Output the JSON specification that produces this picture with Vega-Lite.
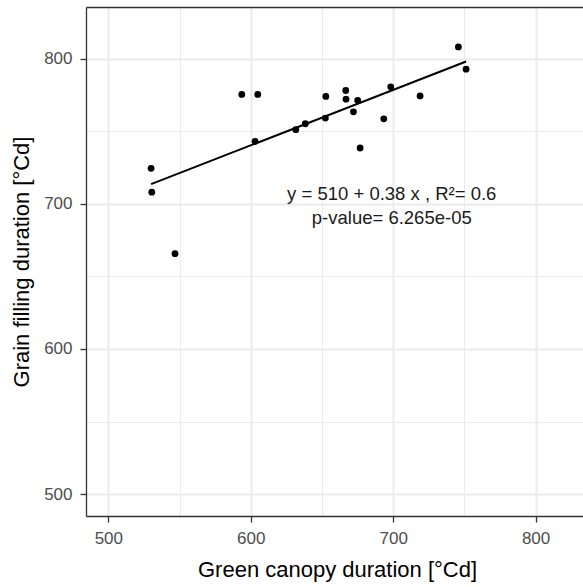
{
  "$schema": "https://vega.github.io/schema/vega-lite/v6.json",
  "width": 497,
  "height": 509,
  "autosize": {"type": "none"},
  "padding": {"left": 86, "top": 7, "right": 0, "bottom": 71},
  "background": "white",
  "config": {
    "view": {"stroke": null},
    "font": "Liberation Sans"
  },
  "datasets": {
    "obs": [
      {"canopy": 530.0, "filling": 724.4},
      {"canopy": 530.5, "filling": 708.0},
      {"canopy": 546.8, "filling": 665.6},
      {"canopy": 593.7, "filling": 775.3},
      {"canopy": 604.9, "filling": 775.3},
      {"canopy": 603.0, "filling": 743.0},
      {"canopy": 631.6, "filling": 751.0},
      {"canopy": 638.3, "filling": 755.1},
      {"canopy": 652.7, "filling": 773.9},
      {"canopy": 652.4, "filling": 759.0},
      {"canopy": 666.7, "filling": 778.0},
      {"canopy": 666.9, "filling": 772.0},
      {"canopy": 675.1, "filling": 771.2},
      {"canopy": 672.1, "filling": 763.3},
      {"canopy": 676.8, "filling": 738.4},
      {"canopy": 693.4, "filling": 758.5},
      {"canopy": 698.3, "filling": 780.5},
      {"canopy": 718.9, "filling": 774.3},
      {"canopy": 745.8, "filling": 808.0},
      {"canopy": 751.2, "filling": 792.7}
    ],
    "note": [
      {"canopy": 699, "filling": 702.5, "label": "y = 510 + 0.38 x , R²= 0.6"},
      {"canopy": 699, "filling": 685.8, "label": "p-value= 6.265e-05"}
    ]
  },
  "resolve": {"axis": {"x": "independent"}},
  "layer": [
    {
      "data": {"name": "obs"},
      "mark": {"type": "point", "opacity": 0},
      "encoding": {
        "x": {
          "field": "canopy",
          "type": "quantitative",
          "scale": {"domain": [484.3, 833.3], "zero": false, "nice": false},
          "axis": {
            "orient": "top",
            "domain": true,
            "domainColor": "#333333",
            "domainWidth": 1.3,
            "ticks": false,
            "labels": false,
            "grid": false,
            "title": null
          }
        }
      }
    },
    {
      "data": {"name": "obs"},
      "mark": {"type": "circle", "size": 46, "color": "black", "opacity": 1},
      "encoding": {
        "x": {
          "field": "canopy",
          "type": "quantitative",
          "scale": {"domain": [484.3, 833.3], "zero": false, "nice": false},
          "axis": {
            "orient": "bottom",
            "values": [500, 550, 600, 650, 700, 750, 800],
            "labelExpr": "datum.value % 100 === 0 ? datum.label : ''",
            "labelOverlap": false,
            "labelFlush": false,
            "grid": true,
            "gridColor": "#ebebeb",
            "gridWidth": {"condition": {"test": "datum.value % 100 === 0", "value": 2}, "value": 1},
            "tickOpacity": {"condition": {"test": "datum.value % 100 === 0", "value": 1}, "value": 0},
            "domain": true,
            "domainColor": "#333333",
            "domainWidth": 1.3,
            "tickColor": "#333333",
            "tickWidth": 1.3,
            "tickSize": 6,
            "labelPadding": 8,
            "labelColor": "#4d4d4d",
            "labelFontSize": 17,
            "title": "Green canopy duration [°Cd]",
            "titleFontSize": 22,
            "titleFontWeight": "normal",
            "titleColor": "black",
            "titleBaseline": "alphabetic",
            "titleY": 60,
            "titleX": 251
          }
        },
        "y": {
          "field": "filling",
          "type": "quantitative",
          "scale": {"domain": [485, 835.5], "zero": false, "nice": false},
          "axis": {
            "values": [500, 550, 600, 650, 700, 750, 800],
            "labelExpr": "datum.value % 100 === 0 ? datum.label : ''",
            "labelOverlap": false,
            "labelFlush": false,
            "grid": true,
            "gridColor": "#ebebeb",
            "gridWidth": {"condition": {"test": "datum.value % 100 === 0", "value": 2}, "value": 1},
            "tickOpacity": {"condition": {"test": "datum.value % 100 === 0", "value": 1}, "value": 0},
            "domain": true,
            "domainColor": "#333333",
            "domainWidth": 1.3,
            "tickColor": "#333333",
            "tickWidth": 1.3,
            "tickSize": 6,
            "labelPadding": 8,
            "labelColor": "#4d4d4d",
            "labelFontSize": 17,
            "title": "Grain filling duration [°Cd]",
            "titleFontSize": 22,
            "titleFontWeight": "normal",
            "titleColor": "black",
            "titleBaseline": "alphabetic",
            "titleX": -58
          }
        }
      }
    },
    {
      "data": {"name": "obs"},
      "transform": [{"regression": "filling", "on": "canopy"}],
      "mark": {"type": "line", "color": "black", "strokeWidth": 2},
      "encoding": {
        "x": {
          "field": "canopy",
          "type": "quantitative",
          "scale": {"domain": [484.3, 833.3], "zero": false, "nice": false},
          "axis": null
        },
        "y": {
          "field": "filling",
          "type": "quantitative",
          "scale": {"domain": [485, 835.5], "zero": false, "nice": false}
        }
      }
    },
    {
      "data": {"name": "note"},
      "mark": {"type": "text", "fontSize": 18.5, "color": "#1a1a1a", "align": "center", "baseline": "alphabetic"},
      "encoding": {
        "x": {
          "field": "canopy",
          "type": "quantitative",
          "scale": {"domain": [484.3, 833.3], "zero": false, "nice": false},
          "axis": null
        },
        "y": {
          "field": "filling",
          "type": "quantitative",
          "scale": {"domain": [485, 835.5], "zero": false, "nice": false}
        },
        "text": {"field": "label"}
      }
    }
  ]
}
